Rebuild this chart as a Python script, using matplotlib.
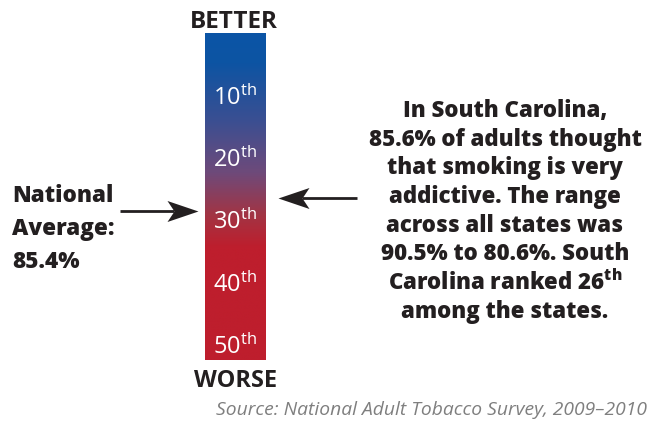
import numpy as np
import matplotlib
matplotlib.use("Agg")
import matplotlib.pyplot as plt
from matplotlib.colors import LinearSegmentedColormap
from matplotlib.path import Path
from matplotlib.transforms import blended_transform_factory

# ---- data -------------------------------------------------------------
rank_ticks = [10, 20, 30, 40, 50]
rank_labels = ["10", "20", "30", "40", "50"]
rank_min, rank_max = -0.5, 52.1          # extent of the rank bar
state_rank = 26                          # South Carolina
national_avg_rank = 28.1                 # position of the national average (85.4%)
state_lines = [
    "In South Carolina,",
    "85.6% of adults thought",
    "that smoking is very",
    "addictive. The range",
    "across all states was",
    "90.5% to 80.6%. South",
    "Carolina ranked 26$^{\\mathbf{th}}$",
    "among the states.",
]
national_lines = ["National", "Average:", "85.4%"]
source_text = "Source: National Adult Tobacco Survey, 2009\u20132010"

# colour ramp along the rank scale (better = blue, worse = red)
grad_ranks = [rank_min, 4.4, 13.5, 22.0, 28.8, 34.0, rank_max]
grad_colors = ["#0b55a6", "#0d54a3", "#3a4f92", "#6e4a7a", "#a23444", "#be1e2d", "#be1e2d"]

# ---- style ------------------------------------------------------------
FONT = "Open Sans"
plt.rcParams["font.family"] = [FONT, "DejaVu Sans"]
plt.rcParams["mathtext.fontset"] = "custom"
plt.rcParams["mathtext.rm"] = FONT
plt.rcParams["mathtext.bf"] = FONT + ":heavy"
plt.rcParams["mathtext.it"] = FONT + ":italic"
TXT = "#231f20"

W, H = 663, 425
fig = plt.figure(figsize=(W / 100, H / 100), dpi=100)
fig.patch.set_facecolor("white")


def fx(px):
    return px / W


def fy(py):
    return 1 - py / H


# ---- gradient bar -----------------------------------------------------
bar_left, bar_right, bar_top, bar_bottom = 205, 265.7, 32.7, 360
bar_w = bar_right - bar_left
ax = fig.add_axes([fx(bar_left), fy(bar_bottom), bar_w / W,
                   (bar_bottom - bar_top) / H])
span = rank_max - rank_min
pos = [(r - rank_min) / span for r in grad_ranks]
cmap = LinearSegmentedColormap.from_list("rank", list(zip(pos, grad_colors)))
ramp = np.linspace(rank_min, rank_max, 600).reshape(-1, 1)
ax.imshow(ramp, cmap=cmap, aspect="auto", interpolation="bilinear",
          extent=[0, 1, rank_max, rank_min], vmin=rank_min, vmax=rank_max)
ax.set_xlim(0, 1)
ax.set_ylim(rank_max, rank_min)
ax.axis("off")

for r, lab in zip(rank_ticks, rank_labels):
    ax.text(0.5, r, lab + "$^{\\mathrm{th}}$", color="white", fontsize=17,
            ha="center", va="center", fontfamily=FONT)

fig.text(fx(234), fy(28), "BETTER", ha="center", va="baseline",
         fontsize=17.5, fontweight="bold", color=TXT)
fig.text(fx(236), fy(387), "WORSE", ha="center", va="baseline",
         fontsize=17, fontweight="bold", color=TXT)

# ---- arrows (shaft + swept head) ----------------------------------------
blend = blended_transform_factory(ax.transAxes, ax.transData)
head_right = Path([(0, 0), (-31, 10.5), (-24, 0), (-31, -10.5), (0, 0)],
                  [Path.MOVETO, Path.LINETO, Path.LINETO, Path.LINETO, Path.CLOSEPOLY])
head_left = Path([(0, 0), (31, 10.5), (24, 0), (31, -10.5), (0, 0)],
                 [Path.MOVETO, Path.LINETO, Path.LINETO, Path.LINETO, Path.CLOSEPOLY])
head_size = 62 * 0.72  # marker size in points (path spans +/-31 px)


def arrow(tail_px, tip_px, rank, head):
    tail = (tail_px - bar_left) / bar_w
    tip = (tip_px - bar_left) / bar_w
    back = (tip_px + (24 if tip_px > tail_px else -24) * -1 - bar_left) / bar_w
    ax.plot([tail, back], [rank, rank], color=TXT, lw=2.0, transform=blend,
            clip_on=False, solid_capstyle="butt")
    ax.plot([tip], [rank], marker=head, markersize=head_size, color=TXT,
            markeredgewidth=0, linestyle="none", transform=blend, clip_on=False)


arrow(120, 198, national_avg_rank, head_right)
arrow(357, 278, state_rank, head_left)

# ---- side texts -------------------------------------------------------
for i, line in enumerate(national_lines):
    fig.text(fx(12), fy(202 + 33 * i), line, ha="left", va="baseline",
             fontsize=16.2, fontweight="heavy", color=TXT)

for i, line in enumerate(state_lines):
    fig.text(fx(505), fy(117 + 28.7 * i), line, ha="center", va="baseline",
             fontsize=16, fontweight="heavy", color=TXT)

fig.text(fx(647), fy(415), source_text, ha="right", va="baseline",
         fontsize=13.9, fontstyle="italic", color="#7f7f7f")

fig.savefig("out.png", dpi=100, facecolor="white")
